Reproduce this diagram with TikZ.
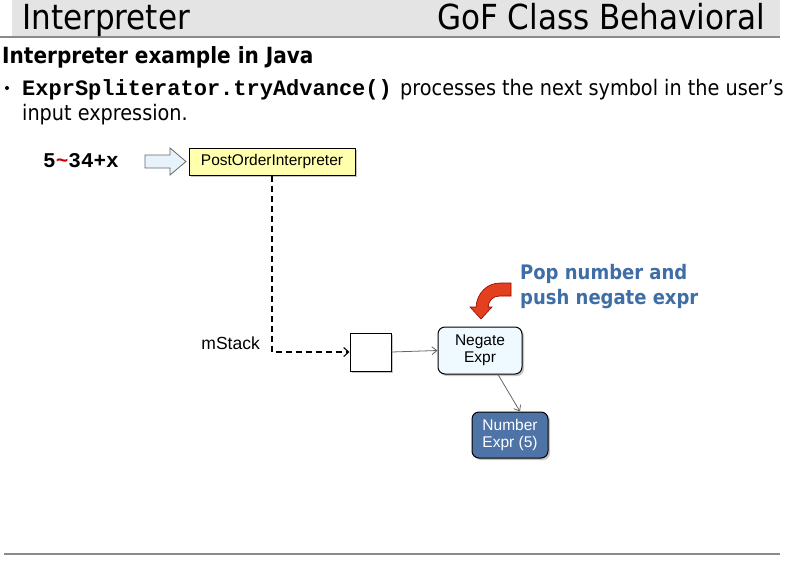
\documentclass[tikz,border=0pt]{standalone}
\usepackage{fontspec}
\usetikzlibrary{shadows,arrows.meta,calc}
\newfontfamily\tahoma{DejaVu Sans Condensed}
\newfontfamily\arialf{Liberation Sans}
\newfontfamily\monof{Liberation Mono}
\definecolor{hdrgray}{HTML}{E4E4E4}
\definecolor{linegray}{HTML}{8A8A8A}
\definecolor{postyellow}{HTML}{FFFFAE}
\definecolor{negfill}{HTML}{EEFAFF}
\definecolor{numfill}{HTML}{4E73A6}
\definecolor{popblue}{HTML}{3F6DA6}
\definecolor{arrowred}{HTML}{E2401F}
\definecolor{hollowfill}{HTML}{E6F3FB}
\begin{document}
\begin{tikzpicture}[x=1pt,y=-1pt,
  box/.style={draw=black, line width=1pt, drop shadow={shadow xshift=2pt, shadow yshift=-2pt, fill=black!45, opacity=0.5}},
  lbl/.style={font=\arialf\fontsize{15.5}{17}\selectfont, align=center, inner sep=0pt},
  txt/.style={anchor=base west, inner sep=0pt},
  thinarrow/.style={draw=black!60, line width=0.8pt, -{Straight Barb[length=5pt,width=8pt]}}]
\useasboundingbox (0,0) rectangle (800,565);
% header
\fill[hdrgray] (12,0) rectangle (780,36);
\draw[linegray, line width=1.5pt] (0,37) -- (780,37);
\node[txt] (title) at (22,29) {\tahoma\fontsize{34.5}{36}\selectfont Interpreter};
\node[anchor=base east, inner sep=0pt] (cat) at (765,29) {\tahoma\fontsize{34.5}{36}\selectfont GoF Class Behavioral};
% subtitle and bullet
\node[txt] (sub) at (2,63) {\tahoma\bfseries\fontsize{22.3}{24}\selectfont Interpreter example in Java};
\fill (7,88) circle (2pt);
\node[txt] (code) at (22,95) {\monof\bfseries\fontsize{22}{24}\selectfont ExprSpliterator.tryAdvance()};
\node[txt] (l1) at (400,95) {\tahoma\fontsize{21.4}{24}\selectfont processes the next symbol in the user’s};
\node[txt] (l2) at (22,120) {\tahoma\fontsize{21.4}{24}\selectfont input expression.};
% input expression
\node[txt] (input) at (43,167) {\monof\bfseries\fontsize{21}{23}\selectfont 5\textcolor{red!80!black}{\char`\~}34+x};
% hollow arrow
\draw[draw=black!60, fill=hollowfill, line width=0.8pt] (145,155) -- (170,155) -- (170,148) -- (186,161.5) -- (170,175) -- (170,168) -- (145,168) -- cycle;
% nodes
\node[box, fill=postyellow, minimum width=166pt, minimum height=27pt, lbl] (post) at (272,161.5) {PostOrderInterpreter};
\node[box, fill=white, minimum width=41pt, minimum height=38pt, inner sep=0pt] (stack) at (370.5,352) {};
\node[box, fill=negfill, rounded corners=7pt, minimum width=84pt, minimum height=47pt, lbl] (neg) at (480,350.5) {Negate\\Expr};
\node[box, fill=numfill, rounded corners=7pt, minimum width=76pt, minimum height=46pt, lbl, text=white] (num) at (510,435) {Number\\Expr (5)};
% label
\node[anchor=base east, inner sep=0pt, font=\arialf\fontsize{17.5}{19}\selectfont] (mstack) at (260,349) {mStack};
% connectors
\draw[dashed, dash pattern=on 6pt off 4pt, line width=1.1pt, -{Straight Barb[length=5pt,width=9pt]}] (post.south) |- (stack.west);
\draw[thinarrow] (stack.east) -- (neg.west);
\draw[thinarrow] ([xshift=18pt]neg.south) -- ([xshift=10pt]num.north);
% red bent arrow
\draw[draw=red!60!black, fill=arrowred, line width=0.6pt] (511,283) -- (500,283) .. controls (487,283) and (477,293) .. (476,307) -- (470,307) -- (481,319) -- (492,307) -- (488,307) .. controls (489,300) and (493,296) .. (500,296) -- (511,296) -- cycle;
% blue text
\node[txt, text=popblue] (pop1) at (520,279) {\tahoma\bfseries\fontsize{20}{22}\selectfont Pop number and};
\node[txt, text=popblue] (pop2) at (520,304) {\tahoma\bfseries\fontsize{20}{22}\selectfont push negate expr};
% bottom line
\draw[linegray, line width=1.5pt] (4,554) -- (780,554);
\end{tikzpicture}
\end{document}
